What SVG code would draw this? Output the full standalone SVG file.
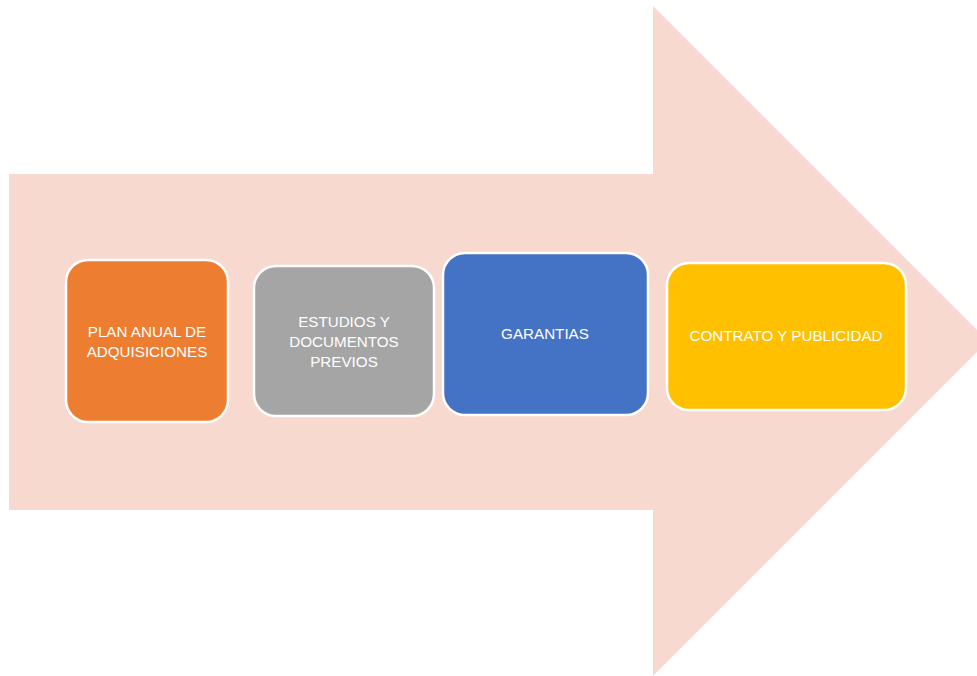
<svg xmlns="http://www.w3.org/2000/svg" width="977" height="676" viewBox="0 0 977 676">
<style>
.box{stroke:#FFFFFF;stroke-width:2.5}
.lbl{fill:#FFFFFF;font-family:"Liberation Sans",Arial,sans-serif;font-size:15.2px;text-anchor:middle}
</style>
<rect width="977" height="676" fill="#FFFFFF"/>
<g id="arrow">
<polygon points="9,174 653,174 653,6 988,341 653,676 653,510 9,510" fill="#F8D9CF"/>
</g>
<g id="connectors"></g>
<g id="node1">
<rect class="box" x="66" y="260" width="162" height="162" rx="22" fill="#ED7D31"/>
<text class="lbl" x="147" y="337">PLAN ANUAL DE</text>
<text class="lbl" x="147" y="357">ADQUISICIONES</text>
</g>
<g id="node2">
<rect class="box" x="254" y="266" width="180" height="150" rx="22" fill="#A5A5A5"/>
<text class="lbl" x="344" y="327">ESTUDIOS Y</text>
<text class="lbl" x="344" y="347">DOCUMENTOS</text>
<text class="lbl" x="344" y="367">PREVIOS</text>
</g>
<g id="node3">
<rect class="box" x="443" y="253" width="205" height="162" rx="22" fill="#4472C4"/>
<text class="lbl" x="545" y="339">GARANTIAS</text>
</g>
<g id="node4">
<rect class="box" x="667" y="263" width="239" height="147" rx="22" fill="#FFC000"/>
<text class="lbl" x="786" y="341">CONTRATO Y PUBLICIDAD</text>
</g>
</svg>
